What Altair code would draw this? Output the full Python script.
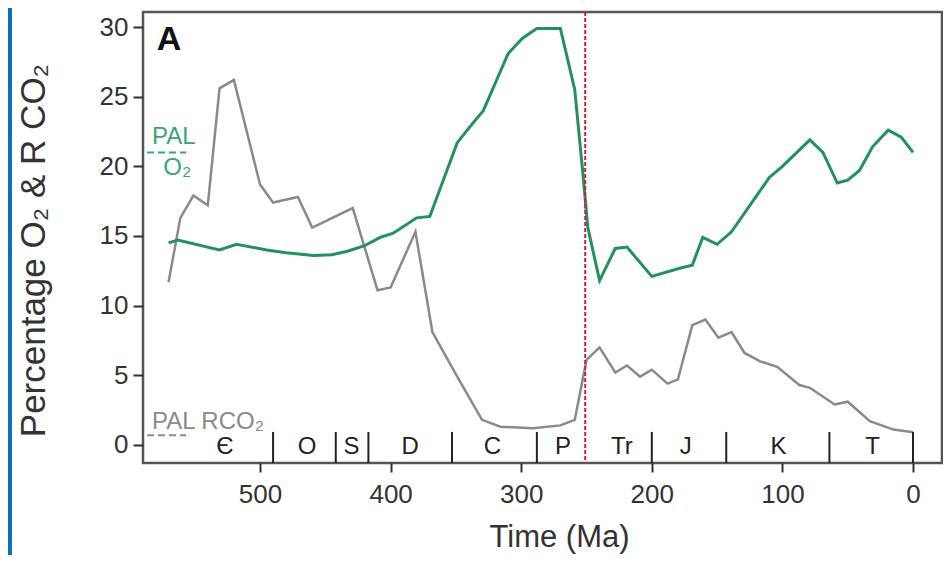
import altair as alt
import pandas as pd

FONT = "Liberation Sans"

# ---- data ----
gray_ma = [570, 561, 551, 540, 531, 520, 500, 490, 471, 460, 429, 410, 400, 381, 368,
           349, 330, 316, 291, 270, 259, 250, 240, 228, 219, 209, 200, 188, 180, 169,
           159, 149, 139, 129, 117, 104, 87, 79, 60, 50, 33, 15, 0]
gray_val = [11.7, 16.3, 17.9, 17.2, 25.6, 26.2, 18.7, 17.4, 17.8, 15.6, 17.0, 11.1, 11.3, 15.3, 8.1,
            4.9, 1.8, 1.3, 1.2, 1.4, 1.8, 6.1, 7.0, 5.2, 5.7, 4.9, 5.4, 4.4, 4.7, 8.6,
            9.0, 7.7, 8.1, 6.6, 6.0, 5.6, 4.3, 4.1, 2.9, 3.1, 1.7, 1.1, 0.9]

green_ma = [570, 563, 531, 518, 495, 480, 459, 445, 433, 420, 408, 398, 380, 370, 349,
            337, 329, 310, 299, 288, 270, 259, 253, 249, 240, 228, 219, 200, 178, 169,
            161, 150, 139, 110, 100, 79, 69, 58, 50, 41, 31, 19, 9, 0]
green_val = [14.5, 14.7, 14.0, 14.4, 14.0, 13.8, 13.6, 13.65, 13.9, 14.3, 14.9, 15.2, 16.3, 16.4, 21.7,
             23.1, 24.0, 28.1, 29.2, 29.9, 29.9, 25.5, 19.7, 15.6, 11.8, 14.1, 14.2, 12.1, 12.7, 12.9,
             14.9, 14.4, 15.3, 19.2, 20.0, 21.9, 21.0, 18.8, 19.0, 19.7, 21.4, 22.6, 22.1, 21.0]

period_labels = ["Є", "O", "S", "D", "C", "P", "Tr", "J", "K", "T"]
period_label_ma = [527, 464, 430, 385, 322, 268, 223, 174, 103, 31]
boundary_ma = [490, 442, 417, 353, 288, 200, 143, 64, 0]
extinction_ma = [251]

x_ticks = [0, 100, 200, 300, 400, 500]
y_ticks = [0, 5, 10, 15, 20, 25, 30]

pal_o2_level = [21.0]
pal_rco2_level = [0.7]
pal_span = [586.5, 556.6]

# ---- tables ----
gray_df = pd.DataFrame({"ma": gray_ma, "val": gray_val})
green_df = pd.DataFrame({"ma": green_ma, "val": green_val})
lab_df = pd.DataFrame({"ma": period_label_ma, "val": [-0.15] * len(period_labels), "txt": period_labels})
bnd_df = pd.DataFrame({"ma": boundary_ma, "val": [-1.3] * len(boundary_ma), "val2": [0.93] * len(boundary_ma)})
ext_df = pd.DataFrame({"ma": extinction_ma})
pal_df = pd.DataFrame({"ma": [pal_span[0]] * 2, "ma2": [pal_span[1]] * 2,
                       "val": pal_o2_level + pal_rco2_level, "kind": ["o2", "co2"]})

xscale = alt.Scale(domain=[-22.2, 589.6], reverse=True, nice=False, zero=False)
yscale = alt.Scale(domain=[-1.3, 31.08], nice=False, zero=False)

axis_x = alt.Axis(values=x_ticks, title="Time (Ma)", domain=False, grid=False,
                  tickSize=9, tickWidth=2, tickColor="#333",
                  labelFont=FONT, labelFontSize=26, labelColor="#333", labelPadding=9,
                  labelFlush=False, format="d",
                  titleFont=FONT, titleFontSize=31, titleFontWeight="normal", titleColor="#333",
                  titleX=416, titleY=74, titleBaseline="middle", titleAlign="center")
axis_y = alt.Axis(values=y_ticks, title="Percentage O₂ & R CO₂", domain=False, grid=False,
                  tickSize=10, tickWidth=2, tickColor="#333",
                  labelFont=FONT, labelFontSize=26, labelColor="#333", labelPadding=5,
                  labelFlush=False,
                  titleFont=FONT, titleFontSize=35, titleFontWeight="normal", titleColor="#333",
                  titleX=-110, titleY=238, titleAngle=270, titleBaseline="middle", titleAlign="center")


def X(field="ma"):
    return alt.X(f"{field}:Q", scale=xscale, axis=axis_x)


def Y(field="val"):
    return alt.Y(f"{field}:Q", scale=yscale, axis=axis_y)


stripe = alt.Chart(alt.Data(values=[{}])).mark_rect(color="#0a6fc2").encode(
    x=alt.value(-135), x2=alt.value(-131), y=alt.value(-4), y2=alt.value(543))

gray_line = alt.Chart(gray_df).mark_line(color="#8a8a8a", strokeWidth=2.5).encode(x=X(), y=Y())
green_line = alt.Chart(green_df).mark_line(color="#23915c", strokeWidth=3).encode(x=X(), y=Y())

bounds = alt.Chart(bnd_df).mark_rule(color="#222", strokeWidth=2).encode(
    x=X(), y=Y(), y2=alt.Y2("val2:Q"))

labels = alt.Chart(lab_df).mark_text(font=FONT, fontSize=24, color="#222",
                                     align="center", baseline="middle").encode(
    x=X(), y=Y(), text="txt:N")

ext = alt.Chart(ext_df).mark_rule(color="#cc1f3f", strokeWidth=2, strokeDash=[4, 2]).encode(x=X())

pal_lines = alt.Chart(pal_df).mark_rule(strokeWidth=2, strokeDash=[7, 4]).encode(
    x=X(), x2=alt.X2("ma2:Q"), y=Y(),
    color=alt.Color("kind:N", scale=alt.Scale(domain=["o2", "co2"], range=["#3aa57a", "#8a8a8a"]),
                    legend=None))

ann_df = pd.DataFrame({
    "ma": [582.7, 574.0, 582.7],
    "val": [22.1, 19.9, 1.65],
    "txt": ["PAL", "O₂", "PAL RCO₂"],
    "kind": ["o2", "o2", "co2"],
})
ann = alt.Chart(ann_df).mark_text(font=FONT, fontSize=24, align="left", baseline="middle").encode(
    x=X(), y=Y(), text="txt:N",
    color=alt.Color("kind:N", scale=alt.Scale(domain=["o2", "co2"], range=["#3aa57a", "#8a8a8a"]),
                    legend=None))

panel_df = pd.DataFrame({"ma": [569.7], "val": [29.1], "txt": ["A"]})
panel = alt.Chart(panel_df).mark_text(font=FONT, fontSize=34, fontWeight="bold", color="#111",
                                      align="center", baseline="middle").encode(
    x=X(), y=Y(), text="txt:N")

chart = alt.layer(stripe, gray_line, green_line, bounds, labels, pal_lines, ann, panel, ext).properties(
    width=799, height=451,
    autosize=alt.AutoSizeParams(type="none"),
    padding={"left": 135, "top": 4, "right": 1, "bottom": 92},
    background="white",
).configure_view(stroke="#555", strokeWidth=2.5)

chart.save("out.html", embed_options={"renderer": "svg", "actions": False})
